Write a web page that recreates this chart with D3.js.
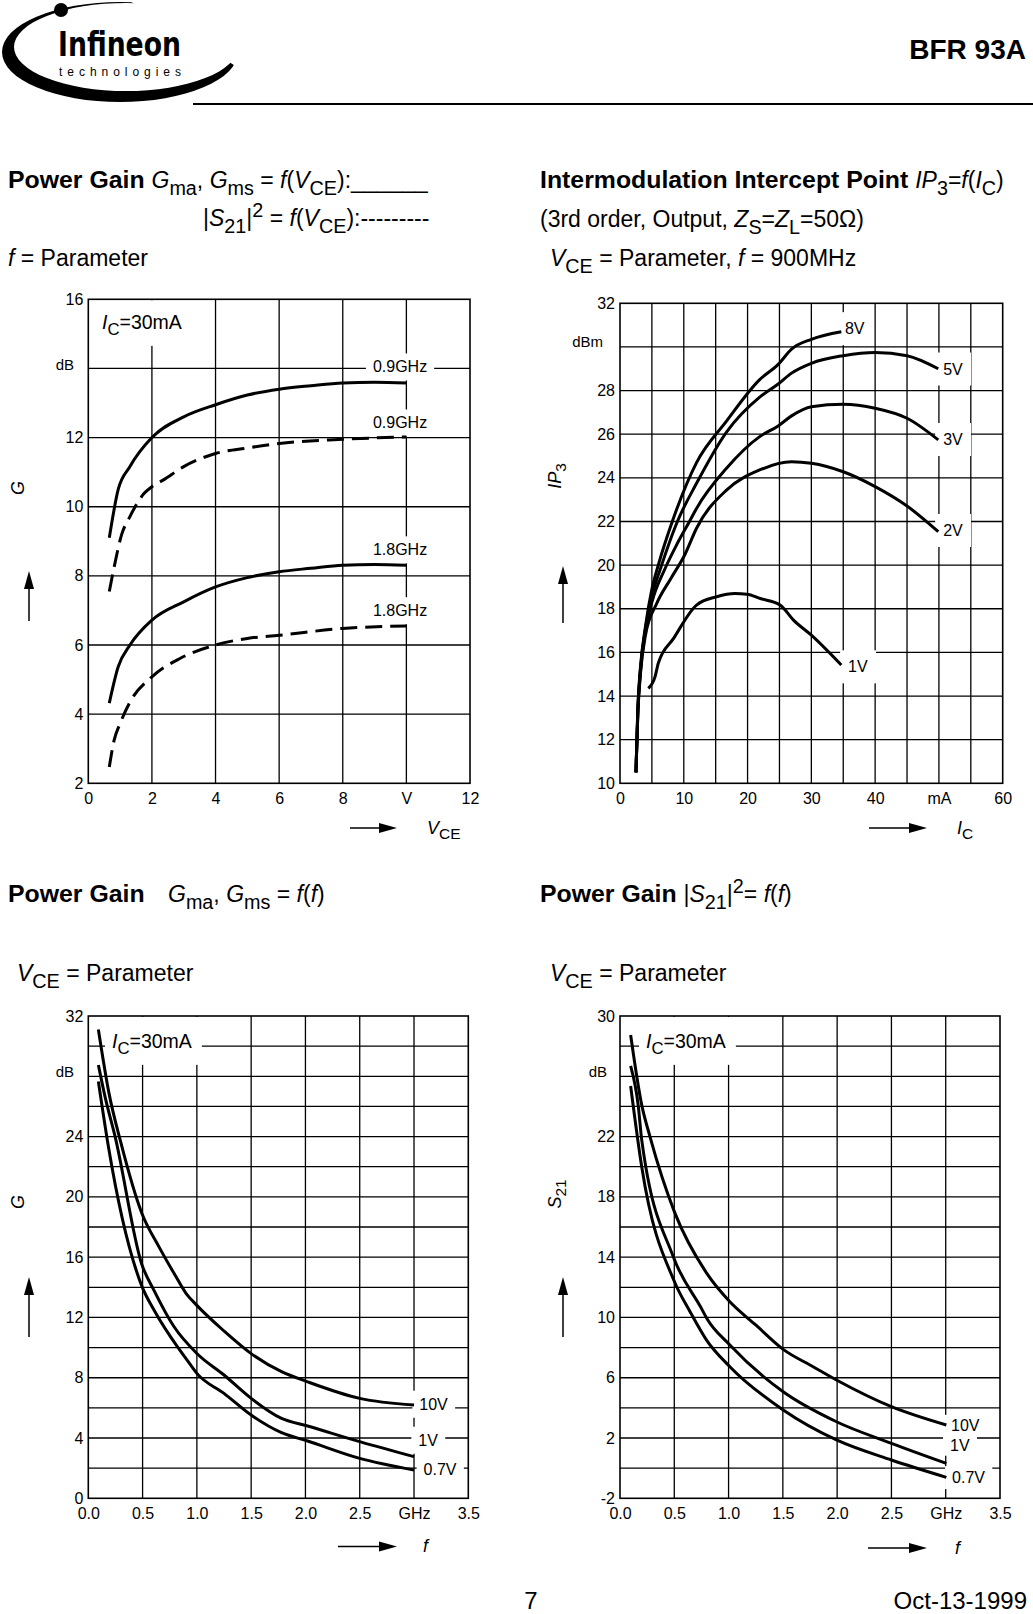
<!DOCTYPE html>
<html><head><meta charset="utf-8">
<script src="https://cdn.jsdelivr.net/npm/d3@7"></script>
<style>
body{margin:0;background:#fff}
svg{display:block}
text{font-family:"Liberation Sans",Arial,Helvetica,sans-serif;white-space:pre;fill:#000}
</style>
</head><body>
<svg id="c" width="1033" height="1614"></svg>
<script>
// ===================== DATA =====================
// Chart 1: Power gain vs VCE, IC = 30 mA  [VCE (V), gain (dB)]
const vceTicks = [0, 2, 4, 6, 8, 10, 12];
const vceTickLabels = ["0", "2", "4", "6", "8", "V", "12"];
const gain1Ticks = [2, 4, 6, 8, 10, 12, 16];
const gmaVce09 = [[0.66,9.1],[0.94,10.5],[1.3,11.15],[2,12.0],[3,12.6],[4,12.95],[5,13.23],[6,13.4],[7,13.5],[8,13.58],[9,13.6],[10,13.58]];
const s21Vce09 = [[0.66,7.55],[0.8,8.2],[1.05,9.2],[1.3,9.7],[1.75,10.38],[2,10.58],[2.35,10.77],[3,11.16],[4,11.54],[5,11.7],[6,11.83],[8,11.95],[10,12.02]];
const gmaVce18 = [[0.66,4.32],[0.94,5.37],[1.31,6.0],[2,6.72],[3,7.25],[4,7.68],[5,7.95],[6,8.12],[7,8.22],[8,8.31],[9,8.33],[10,8.31]];
const s21Vce18 = [[0.66,2.47],[0.81,3.24],[1.0,3.73],[1.31,4.35],[2,5.08],[2.88,5.61],[4,6.0],[5,6.19],[6,6.28],[8,6.48],[10,6.55]];

// Chart 2: IP3 vs IC, f = 900 MHz  [IC (mA), IP3 (dBm)]
const icTicks = [0, 10, 20, 30, 40, 50, 60];
const icTickLabels = ["0", "10", "20", "30", "40", "mA", "60"];
const ip3Ticks = [10, 12, 14, 16, 18, 20, 22, 24, 26, 28, 32];
const ip3V8 = [[2.5,10.5],[2.8,13.5],[3.2,15.3],[4,17.2],[5,18.9],[6,20.0],[8.2,22],[12,24.7],[16.7,26.6],[21.9,28.5],[24.8,29.2],[26.9,29.9],[30,30.35],[34.7,30.7]];
const ip3V5 = [[2.5,10.5],[2.8,13.4],[3.2,15.2],[4,17.1],[5,18.6],[6.3,19.8],[9,22],[12,23.75],[16.7,26.1],[21.9,27.7],[24.8,28.3],[26.9,28.8],[30,29.25],[35,29.6],[40,29.75],[45,29.6],[49.9,29.0]];
const ip3V3 = [[2.5,10.5],[2.8,13.3],[3.2,15.1],[4,17.0],[5,18.3],[7,19.8],[9,21.0],[11,22.06],[12,22.6],[16.7,24.44],[21.9,25.89],[24.8,26.38],[26.9,26.84],[30,27.26],[35,27.37],[40,27.19],[45,26.73],[49.9,25.74]];
const ip3V2 = [[2.5,10.5],[2.8,13.2],[3.2,15.0],[4,16.8],[5.75,18.24],[8,19.4],[10.2,20.5],[12,21.69],[16.7,23.44],[21.9,24.36],[26.9,24.74],[30,24.67],[35,24.28],[40,23.6],[45,22.71],[49.9,21.53]];
const ip3V1 = [[4.44,14.35],[5.5,14.89],[6,15.5],[8.4,16.64],[12,18.17],[15.15,18.55],[18,18.7],[19.9,18.67],[22,18.47],[25.1,18.17],[27.2,17.48],[30,16.79],[34.7,15.42]];

// Chart 3: Gma/Gms vs f, IC = 30 mA  [f (GHz), gain (dB)]
const fTicks = [0, 0.5, 1.0, 1.5, 2.0, 2.5, 3.0, 3.5];
const fTickLabels = ["0.0", "0.5", "1.0", "1.5", "2.0", "2.5", "GHz", "3.5"];
const gain3Ticks = [0, 4, 8, 12, 16, 20, 24, 32];
const gmaF10V = [[0.093,31.1],[0.19,26.9],[0.3,23.6],[0.494,18.9],[0.65,16.7],[0.8,14.8],[0.9,13.6],[1.0,12.8],[1.25,11.1],[1.5,9.6],[1.78,8.4],[2.02,7.73],[2.5,6.63],[3.0,6.19]];
const gmaF1V = [[0.093,28.75],[0.154,26.65],[0.247,24.0],[0.494,15.5],[0.605,13.8],[0.79,11.38],[1.0,9.61],[1.25,8.18],[1.5,6.63],[1.78,5.3],[2.02,4.8],[2.5,3.76],[3.0,2.76]];
const gmaF07V = [[0.093,27.65],[0.185,23.34],[0.494,14.06],[0.605,12.49],[0.82,10.06],[0.91,9.17],[1.0,8.29],[1.25,6.96],[1.5,5.52],[1.78,4.35],[2.02,3.8],[2.5,2.65],[3.0,1.88]];

// Chart 4: |S21|^2 vs f, IC = 30 mA  [f (GHz), gain (dB)]
const gain4Ticks = [-2, 2, 6, 10, 14, 18, 22, 30];
const s21F10V = [[0.098,28.74],[0.2,24.1],[0.276,22.0],[0.506,16.92],[0.798,12.94],[1.012,11.04],[1.25,9.5],[1.503,7.88],[1.779,6.73],[1.994,5.85],[2.5,4.08],[3.006,2.86]];
const s21F1V = [[0.098,26.69],[0.169,23.99],[0.2,21.78],[0.49,14.04],[0.75,10.6],[0.8,9.93],[1.012,8.17],[1.503,5.07],[1.994,3.08],[2.5,1.65],[3.006,0.32]];
const s21F07V = [[0.098,25.36],[0.2,20.0],[0.506,12.3],[0.644,10.4],[0.797,8.5],[1.012,6.73],[1.503,3.86],[1.994,1.87],[2.5,0.54],[3.006,-0.61]];

// ===================== DRAWING =====================
const svg = d3.select('#c');
svg.append('rect').attr('width', 1033).attr('height', 1614).attr('fill', '#fff');

const SUB = 0.86;
function rich(parent, x, y, parts, size, anchor) {
  const t = parent.append('text').attr('x', x).attr('y', y)
    .attr('font-size', size).attr('text-anchor', anchor || 'start');
  let shift = 0;
  parts.forEach(p => {
    const s = p[0], st = (p[1] || '').split(' ');
    const sp = t.append('tspan').text(s);
    const sub = st.includes('sub'), sup = st.includes('sup');
    const target = sub ? size * 0.3 : sup ? -size * 0.4 : 0;
    if (target !== shift) sp.attr('dy', target - shift);
    shift = target;
    if (sub || sup) sp.attr('font-size', size * SUB);
    if (st.includes('i')) sp.attr('font-style', 'italic');
    if (st.includes('b')) sp.attr('font-weight', 'bold').attr('font-size', size * 1.08);
  });
  return t;
}

// ---------- header ----------
const logo = svg.append('g');
const defs = svg.append('defs');
defs.append('clipPath').attr('id', 'lc').append('polygon')
  .attr('points', '0,-5 120,-5 242,70 242,115 0,115');
function ell(cx, cy, rx, ry) {
  return `M${cx - rx},${cy}A${rx},${ry} 0 1,0 ${cx + rx},${cy}A${rx},${ry} 0 1,0 ${cx - rx},${cy}Z`;
}
logo.append('path').attr('d', ell(120, 52, 118, 50) + ell(126, 47, 112, 44))
  .attr('fill-rule', 'evenodd').attr('fill', '#000').attr('clip-path', 'url(#lc)');
logo.append('circle').attr('cx', 61).attr('cy', 10).attr('r', 7).attr('fill', '#000');
logo.append('text').attr('x', 58).attr('y', 56).attr('font-size', 33).attr('font-weight', 'bold')
  .attr('textLength', 123).attr('lengthAdjust', 'spacingAndGlyphs')
  .style('font-family', '"Liberation Sans Narrow","DejaVu Sans Condensed",Arial').text('Infineon');
logo.append('text').attr('x', 59).attr('y', 76).attr('font-size', 12)
  .attr('textLength', 122).attr('lengthAdjust', 'spacing').text('technologies');
svg.append('text').attr('x', 1026).attr('y', 59).attr('font-size', 28).attr('font-weight', 'bold')
  .attr('text-anchor', 'end').text('BFR 93A');
svg.append('line').attr('x1', 193).attr('x2', 1033).attr('y1', 104).attr('y2', 104)
  .attr('stroke', '#000').attr('stroke-width', 2.2);

// ---------- titles ----------
const TS = 23;
rich(svg, 8, 188, [["Power Gain ", "b"], ["G", "i"], ["ma", "sub"], [", "], ["G", "i"], ["ms", "sub"], [" = "], ["f", "i"], ["("], ["V", "i"], ["CE", "sub"], ["):______"]], TS);
rich(svg, 203, 226, [["|"], ["S", "i"], ["21", "sub"], ["|"], ["2", "sup"], [" = "], ["f", "i"], ["("], ["V", "i"], ["CE", "sub"], ["):---------"]], TS);
rich(svg, 8, 266, [["f", "i"], [" = Parameter"]], TS);
rich(svg, 540, 188, [["Intermodulation Intercept Point ", "b"], ["IP", "i"], ["3", "sub"], ["="], ["f", "i"], ["("], ["I", "i"], ["C", "sub"], [")"]], TS);
rich(svg, 540, 227, [["(3rd order, Output, "], ["Z", "i"], ["S", "sub"], ["="], ["Z", "i"], ["L", "sub"], ["=50Ω)"]], TS);
rich(svg, 550, 266, [["V", "i"], ["CE", "sub"], [" = Parameter, "], ["f", "i"], [" = 900MHz"]], TS);
rich(svg, 8, 902, [["Power Gain", "b"]], TS);
rich(svg, 168, 902, [["G", "i"], ["ma", "sub"], [", "], ["G", "i"], ["ms", "sub"], [" = "], ["f", "i"], ["("], ["f", "i"], [")"]], TS);
rich(svg, 540, 902, [["Power Gain ", "b"], ["|"], ["S", "i"], ["21", "sub"], ["|"], ["2", "sup"], ["= "], ["f", "i"], ["("], ["f", "i"], [")"]], TS);
rich(svg, 17, 981, [["V", "i"], ["CE", "sub"], [" = Parameter"]], TS);
rich(svg, 550, 981, [["V", "i"], ["CE", "sub"], [" = Parameter"]], TS);
svg.append('text').attr('x', 531).attr('y', 1609).attr('font-size', 24).attr('text-anchor', 'middle').text('7');
svg.append('text').attr('x', 1027).attr('y', 1609).attr('font-size', 24).attr('text-anchor', 'end').text('Oct-13-1999');

// ---------- chart builder ----------
function arrowUp(g, x, yTop, yBot) {
  g.append('line').attr('x1', x).attr('x2', x).attr('y1', yBot).attr('y2', yTop + 15).attr('stroke', '#000').attr('stroke-width', 1.5);
  g.append('path').attr('d', `M${x},${yTop}L${x - 5},${yTop + 18}L${x + 5},${yTop + 18}Z`).attr('fill', '#000');
}
function arrowRight(g, xl, xr, y) {
  g.append('line').attr('x1', xl).attr('x2', xr - 15).attr('y1', y).attr('y2', y).attr('stroke', '#000').attr('stroke-width', 1.5);
  g.append('path').attr('d', `M${xr},${y}L${xr - 18},${y - 5}L${xr - 18},${y + 5}Z`).attr('fill', '#000');
}

function chart(c) {
  const g = svg.append('g');
  const x = d3.scaleLinear().domain(c.xDomain).range([c.left, c.right]);
  const y = d3.scaleLinear().domain(c.yDomain).range([c.bottom, c.top]);
  const grid = g.append('g').attr('stroke', '#000').attr('stroke-width', 1.3);
  c.xGrid.forEach(v => grid.append('line').attr('x1', x(v)).attr('x2', x(v)).attr('y1', c.top).attr('y2', c.bottom));
  c.yGrid.forEach(v => grid.append('line').attr('y1', y(v)).attr('y2', y(v)).attr('x1', c.left).attr('x2', c.right));
  const boxLayer = g.append('g');
  const curveLayer = g.append('g');
  const textLayer = g.append('g');
  g.append('rect').attr('x', c.left).attr('y', c.top).attr('width', c.right - c.left).attr('height', c.bottom - c.top)
    .attr('fill', 'none').attr('stroke', '#000').attr('stroke-width', 1.6);
  const ax = g.append('g').attr('transform', `translate(0,${c.bottom})`)
    .call(d3.axisBottom(x).tickValues(c.xTicks).tickSize(0).tickPadding(9)
      .tickFormat((d, i) => c.xTickLabels[i]));
  const ay = g.append('g').attr('transform', `translate(${c.left},0)`)
    .call(d3.axisLeft(y).tickValues(c.yTicks).tickSize(0).tickPadding(5).tickFormat(d => String(d)));
  [ax, ay].forEach(a => {
    a.select('.domain').remove();
    a.selectAll('text').attr('font-size', 16).style('font-family', '"Liberation Sans",Arial,sans-serif').attr('fill', '#000');
  });
  g.append('text').attr('x', c.unitX).attr('y', y(c.unitV) - c.unitUp).attr('dy', '0.35em')
    .attr('font-size', 15).attr('text-anchor', 'end').text(c.unit);
  const line = d3.line().x(d => x(d[0])).y(d => y(d[1])).curve(d3.curveMonotoneX);
  c.series.forEach(s => {
    curveLayer.append('path').attr('d', line(s.data)).attr('fill', 'none').attr('stroke', '#000')
      .attr('stroke-width', 3).attr('stroke-linejoin', 'round')
      .attr('stroke-dasharray', s.dashed ? '17,8' : null);
  });
  c.labels.forEach(l => {
    const t = textLayer.append('text').attr('x', x(l.x)).attr('y', y(l.y)).attr('dy', '0.36em')
      .attr('font-size', 16).attr('text-anchor', 'middle').text(l.text);
    const bb = t.node().getBBox();
    boxLayer.append('rect').attr('x', bb.x - (l.px || 7)).attr('y', bb.y - (l.py || 5))
      .attr('width', bb.width + 2 * (l.px || 7)).attr('height', bb.height + 2 * (l.py || 5)).attr('fill', '#fff');
  });
  if (c.ic) {
    const t = rich(textLayer, c.ic[0], c.ic[1], [["I", "i"], ["C", "sub"], ["=30mA"]], 19.5);
    const bb = t.node().getBBox();
    boxLayer.append('rect').attr('x', bb.x - 7).attr('y', c.top + 1)
      .attr('width', bb.width + 17).attr('height', bb.y + bb.height + 7 - c.top - 1).attr('fill', '#fff');
  }
  const yl = rich(g, 0, 0, c.yTitle, 18, 'middle');
  yl.attr('transform', `translate(${c.yTitlePos[0]},${c.yTitlePos[1]}) rotate(-90)`);
  arrowUp(g, c.yArrow[0], c.yArrow[1], c.yArrow[2]);
  arrowRight(g, c.xArrow[0], c.xArrow[1], c.xArrow[2]);
  rich(g, c.xTitlePos[0], c.xTitlePos[1], c.xTitle, 18);
  return { x, y };
}

chart({
  left: 88.3, right: 470, top: 299.3, bottom: 783.3,
  xDomain: [0, 12], yDomain: [2, 16],
  xGrid: d3.range(2, 12, 2), yGrid: d3.range(4, 16, 2),
  xTicks: vceTicks, xTickLabels: vceTickLabels, yTicks: gain1Ticks,
  unit: 'dB', unitV: 14, unitUp: 4, unitX: 74,
  series: [{ data: gmaVce09 }, { data: s21Vce09, dashed: true }, { data: gmaVce18 }, { data: s21Vce18, dashed: true }],
  labels: [{ x: 9.8, y: 14.05, text: '0.9GHz' }, { x: 9.8, y: 12.43, text: '0.9GHz' },
           { x: 9.8, y: 8.76, text: '1.8GHz' }, { x: 9.8, y: 7.0, text: '1.8GHz' }],
  ic: [102, 329],
  yTitle: [["G", "i"]], yTitlePos: [24, 488], yArrow: [29, 571, 621],
  xArrow: [350, 397, 828], xTitle: [["V", "i"], ["CE", "sub"]], xTitlePos: [427, 834]
});

chart({
  left: 620, right: 1002.7, top: 303.3, bottom: 783.3,
  xDomain: [0, 60], yDomain: [10, 32],
  xGrid: d3.range(5, 60, 5), yGrid: d3.range(12, 32, 2),
  xTicks: icTicks, xTickLabels: icTickLabels, yTicks: ip3Ticks,
  unit: 'dBm', unitV: 30, unitUp: 5, unitX: 603,
  series: [{ data: ip3V8 }, { data: ip3V5 }, { data: ip3V3 }, { data: ip3V2 }, { data: ip3V1 }],
  labels: [{ x: 36.8, y: 30.85, text: '8V', px: 8, py: 8 }, { x: 52.2, y: 29.0, text: '5V', px: 8, py: 8 },
           { x: 52.2, y: 25.77, text: '3V', px: 8, py: 8 }, { x: 52.2, y: 21.6, text: '2V', px: 8, py: 8 },
           { x: 37.3, y: 15.35, text: '1V', px: 8, py: 8 }],
  yTitle: [["IP", "i"], ["3", "sub"]], yTitlePos: [561, 476], yArrow: [563, 566, 623],
  xArrow: [869, 927, 828], xTitle: [["I", "i"], ["C", "sub"]], xTitlePos: [957, 834]
});

chart({
  left: 88.3, right: 468.3, top: 1016, bottom: 1498.3,
  xDomain: [0, 3.5], yDomain: [0, 32],
  xGrid: d3.range(0.5, 3.5, 0.5), yGrid: d3.range(2, 32, 2),
  xTicks: fTicks, xTickLabels: fTickLabels, yTicks: gain3Ticks,
  unit: 'dB', unitV: 28, unitUp: 4.5, unitX: 74,
  series: [{ data: gmaF10V }, { data: gmaF1V }, { data: gmaF07V }],
  labels: [{ x: 3.18, y: 6.26, text: '10V' }, { x: 3.13, y: 3.87, text: '1V' }, { x: 3.24, y: 1.95, text: '0.7V' }],
  ic: [112, 1048],
  yTitle: [["G", "i"]], yTitlePos: [24, 1202], yArrow: [29, 1277, 1337],
  xArrow: [338, 397, 1546.5], xTitle: [["f", "i"]], xTitlePos: [423, 1552]
});

chart({
  left: 620, right: 1000, top: 1016, bottom: 1498.3,
  xDomain: [0, 3.5], yDomain: [-2, 30],
  xGrid: d3.range(0.5, 3.5, 0.5), yGrid: d3.range(0, 30, 2),
  xTicks: fTicks, xTickLabels: fTickLabels, yTicks: gain4Ticks,
  unit: 'dB', unitV: 26, unitUp: 4.5, unitX: 607,
  series: [{ data: s21F10V }, { data: s21F1V }, { data: s21F07V }],
  labels: [{ x: 3.18, y: 2.86, text: '10V', py: 2 }, { x: 3.13, y: 1.54, text: '1V', py: 2 }, { x: 3.21, y: -0.61, text: '0.7V', py: 3 }],
  ic: [646, 1048],
  yTitle: [["S", "i"], ["21", "sub"]], yTitlePos: [561, 1194], yArrow: [563, 1277, 1337],
  xArrow: [868, 927, 1548], xTitle: [["f", "i"]], xTitlePos: [955, 1554]
});
</script>
</body></html>
